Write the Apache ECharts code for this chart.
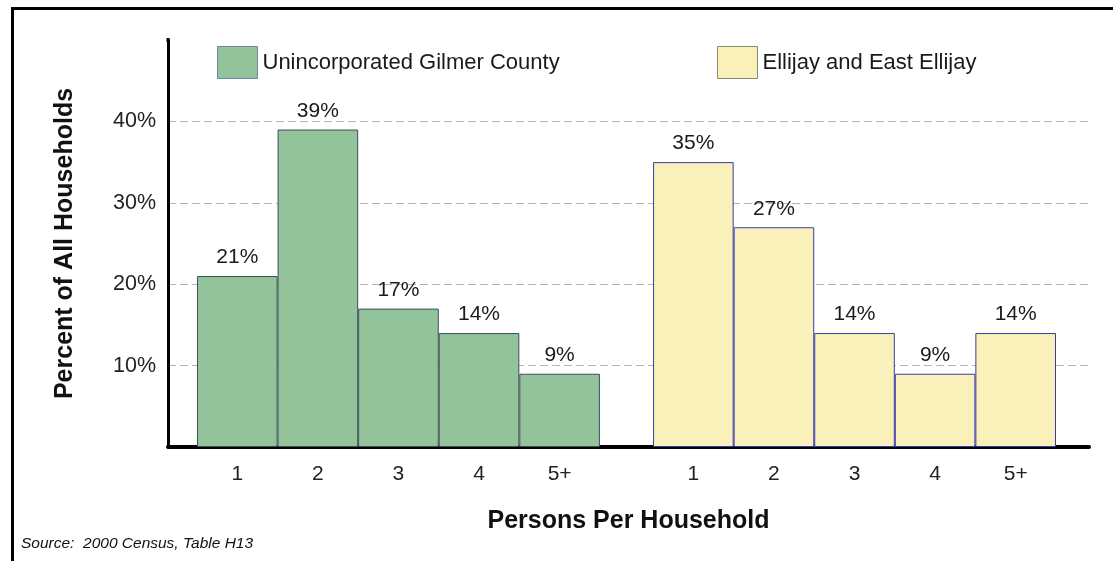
<!DOCTYPE html>
<html>
<head>
<meta charset="utf-8">
<script src="https://cdn.jsdelivr.net/npm/echarts@6/dist/echarts.min.js"></script>
<style>
  html, body { margin: 0; padding: 0; background: #fff; }
  #chart { width: 1113px; height: 561px; }
</style>
</head>
<body>
<div id="chart"></div>
<script>
// data
const categories = ['1', '2', '3', '4', '5+']
const gilmerValues = [21, 39, 17, 14, 9]
const ellijayValues = [35, 27, 14, 9, 14]
const seriesNames = ['Unincorporated Gilmer County', 'Ellijay and East Ellijay']
const yTicks = [0, 10, 20, 30, 40, 50]

// layout: bars sit side by side, second group shifted by a gap (in bar widths)
const GROUP_GAP = 0.66
const groupStart = [0, categories.length + GROUP_GAP]
const font = 'Liberation Sans, Arial, sans-serif'

const pos = (g, i) => groupStart[g] + i + 0.5
const toPoints = (g, vals) => vals.map((v, i) => [pos(g, i), v])
const labelPositions = [0, 1].flatMap(g => categories.map((c, i) => pos(g, i)))

const labelFor = v => {
  let best = 0
  labelPositions.forEach((p, k) => { if (Math.abs(p - v) < Math.abs(labelPositions[best] - v)) best = k })
  return categories[best % categories.length]
}

const chart = echarts.init(document.getElementById('chart'))

const option = {
  backgroundColor: '#fff',
  animation: false,
  textStyle: { fontFamily: font },
  grid: { left: 168, right: 24, top: 40, bottom: 114 },
  legend: [
    {
      left: 217, top: 46, padding: 0, itemWidth: 40, itemHeight: 32, itemGap: 6,
      icon: 'rect',
      textStyle: { fontSize: 22, color: '#1a1a1a', fontFamily: font },
      data: [{ name: seriesNames[0], itemStyle: { color: '#93c39b', borderColor: '#6b86a8', borderWidth: 1 } }]
    },
    {
      left: 717, top: 46, padding: 0, itemWidth: 40, itemHeight: 32, itemGap: 6,
      icon: 'rect',
      textStyle: { fontSize: 22, color: '#1a1a1a', fontFamily: font },
      data: [{ name: seriesNames[1], itemStyle: { color: '#faf0ba', borderColor: '#8a8772', borderWidth: 1 } }]
    }
  ],
  xAxis: {
    type: 'value',
    min: -0.36,
    max: 11.07,
    name: 'Persons Per Household',
    nameLocation: 'middle',
    nameGap: 62,
    nameTextStyle: { fontSize: 25, fontWeight: 'bold', color: '#111', fontFamily: font },
    axisLine: { show: true, onZero: false, lineStyle: { color: '#000', width: 4 } },
    axisTick: { show: false },
    splitLine: { show: false },
    axisLabel: {
      customValues: labelPositions,
      formatter: v => labelFor(v),
      fontSize: 21,
      color: '#222',
      margin: 17
    }
  },
  yAxis: {
    type: 'value',
    min: yTicks[0],
    max: yTicks[yTicks.length - 1],
    interval: 10,
    name: 'Percent of All Households',
    nameLocation: 'middle',
    nameGap: 90,
    nameTextStyle: { fontSize: 25, fontWeight: 'bold', color: '#111', fontFamily: font },
    axisLine: { show: true, onZero: false, lineStyle: { color: '#000', width: 3 } },
    axisTick: { show: false },
    axisLabel: {
      fontSize: 21.5,
      color: '#222',
      margin: 12,
      showMinLabel: false,
      showMaxLabel: false,
      formatter: v => v + '%'
    },
    splitLine: {
      show: true,
      lineStyle: {
        color: yTicks.map((t, i) => (i === 0 || i === yTicks.length - 1) ? 'rgba(0,0,0,0)' : '#b4b4b4'),
        type: [8, 4],
        width: 1
      }
    }
  },
  series: [
    {
      name: seriesNames[0],
      type: 'bar',
      barWidth: 80.6,
      barGap: '-100%',
      data: toPoints(0, gilmerValues),
      itemStyle: { color: '#93c39b', borderColor: '#3e4e58', borderWidth: 1 },
      label: {
        show: true, position: 'top', distance: 8,
        fontSize: 21, color: '#1a1a1a',
        formatter: p => p.value[1] + '%'
      }
    },
    {
      name: seriesNames[1],
      type: 'bar',
      barWidth: 80.6,
      barGap: '-100%',
      data: toPoints(1, ellijayValues),
      itemStyle: { color: '#faf0ba', borderColor: '#3a3aa8', borderWidth: 1 },
      label: {
        show: true, position: 'top', distance: 8,
        fontSize: 21, color: '#1a1a1a',
        formatter: p => p.value[1] + '%'
      }
    }
  ],
  graphic: [
    {
      type: 'rect',
      left: 10, top: 6, silent: true,
      shape: { x: 0, y: 0, width: 1300, height: 800 },
      style: { fill: 'none', stroke: '#000', lineWidth: 3 }
    },
    {
      type: 'line',
      silent: true,
      shape: { x1: 168, y1: 38, x2: 168, y2: 42 },
      style: { stroke: '#000', lineWidth: 3 }
    },
    {
      type: 'text',
      left: 21, top: 536,
      style: {
        text: 'Source:  2000 Census, Table H13',
        fontSize: 15.5, fontStyle: 'italic', fill: '#111', fontFamily: font
      }
    }
  ]
}

chart.setOption(option)
window.addEventListener('resize', () => chart.resize())
</script>
</body>
</html>
